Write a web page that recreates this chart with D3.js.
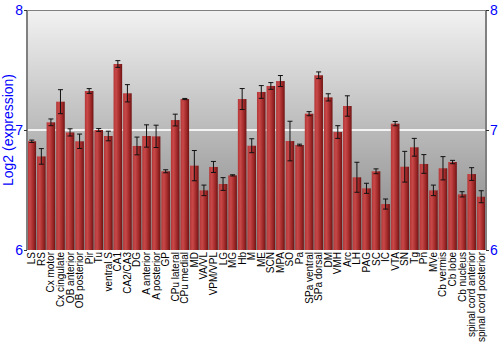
<!DOCTYPE html>
<html>
<head>
<meta charset="utf-8">
<script src="https://cdn.jsdelivr.net/npm/d3@7"></script>
<style>
  body { margin: 0; background: #fff; }
  svg { font-family: "Liberation Sans", Arial, sans-serif; }
</style>
</head>
<body>
<svg></svg>
<script>
const regions = ["LS", "RS", "Cx motor", "Cx cingulate", "OB anterior", "OB posterior", "Pir", "Tu",
  "ventral S", "CA1", "CA2/CA3", "DG", "A anterior", "A posterior", "GP", "CPu lateral", "CPu medial",
  "MD", "VA/VL", "VPM/VPL", "LG", "MG", "Hb", "M", "ME", "SCN", "MPA", "SO", "Pa", "SPa ventral",
  "SPa dorsal", "DM", "VMH", "Arc", "LH", "PAG", "SC", "IC", "VTA", "SN", "Tg", "Pn", "MVe",
  "Cb vermis", "Cb lobe", "Cb nucleus", "spinal cord anterior", "spinal cord posterior"]

const expression = [6.906, 6.78, 7.064, 7.236, 6.98, 6.906, 7.325, 7.0,
  6.95, 7.55, 7.306, 6.867, 6.95, 6.947, 6.656, 7.083, 7.258,
  6.703, 6.497, 6.692, 6.55, 6.622, 7.258, 6.869, 7.317, 7.367, 7.408, 6.908, 6.875, 7.136,
  7.456, 7.272, 6.983, 7.2, 6.606, 6.514, 6.656, 6.383, 7.053, 6.694, 6.856, 6.717, 6.497,
  6.681, 6.733, 6.464, 6.633, 6.444]

const errors = [0.01, 0.065, 0.028, 0.10, 0.03, 0.06, 0.02, 0.012,
  0.04, 0.028, 0.072, 0.074, 0.093, 0.093, 0.0125, 0.049, 0.005,
  0.126, 0.044, 0.046, 0.053, 0.005, 0.0875, 0.058, 0.053, 0.028, 0.046, 0.165, 0.007, 0.017,
  0.028, 0.03, 0.053, 0.085, 0.125, 0.042, 0.02, 0.042, 0.018, 0.128, 0.074, 0.078, 0.044,
  0.097, 0.014, 0.022, 0.053, 0.05]

const yTicks = [6, 7, 8]

const data = regions.map((r, i) => ({ region: r, value: expression[i], err: errors[i] }))

const svg = d3.select("svg")
  .attr("width", 500)
  .attr("height", 350)

const plotLeft = 27, plotRight = 486, plotTop = 10, plotBottom = 250

const x = d3.scaleBand()
  .domain(regions)
  .range([plotLeft, plotRight])
  .paddingInner(0.1)
  .paddingOuter(0.05)

const y = d3.scaleLinear()
  .domain([6, 8])
  .range([plotBottom, plotTop])

const defs = svg.append("defs")

const bg = defs.append("linearGradient")
  .attr("id", "bg")
  .attr("x1", 0).attr("y1", 0).attr("x2", 0).attr("y2", 1)
bg.append("stop").attr("offset", "0%").attr("stop-color", "#f2f2f2")
bg.append("stop").attr("offset", "100%").attr("stop-color", "#828282")

const barGrad = defs.append("linearGradient")
  .attr("id", "bar")
  .attr("x1", 0).attr("y1", 0).attr("x2", 1).attr("y2", 0)
barGrad.append("stop").attr("offset", "0%").attr("stop-color", "#b33636")
barGrad.append("stop").attr("offset", "30%").attr("stop-color", "#c84848")
barGrad.append("stop").attr("offset", "70%").attr("stop-color", "#a02828")
barGrad.append("stop").attr("offset", "100%").attr("stop-color", "#6e1414")

svg.append("rect")
  .attr("x", plotLeft)
  .attr("y", plotTop)
  .attr("width", plotRight - plotLeft)
  .attr("height", plotBottom - plotTop)
  .attr("fill", "url(#bg)")

// gridline at 7
svg.append("line")
  .attr("x1", plotLeft).attr("x2", plotRight)
  .attr("y1", y(7)).attr("y2", y(7))
  .attr("stroke", "#f4f4f4")
  .attr("stroke-width", 2)

svg.append("line")
  .attr("x1", plotLeft).attr("x2", plotRight)
  .attr("y1", plotTop + 0.5).attr("y2", plotTop + 0.5)
  .attr("stroke", "#808080")

svg.append("g")
  .selectAll("rect")
  .data(data)
  .join("rect")
  .attr("x", d => x(d.region))
  .attr("y", d => y(d.value))
  .attr("width", x.bandwidth())
  .attr("height", d => y(6) - y(d.value))
  .attr("fill", "url(#bar)")

const errG = svg.append("g")
  .attr("stroke", "#111")
  .attr("stroke-width", 1)

const cx = d => x(d.region) + x.bandwidth() / 2

errG.selectAll("line.v")
  .data(data)
  .join("line")
  .attr("class", "v")
  .attr("x1", cx)
  .attr("x2", cx)
  .attr("y1", d => y(d.value + d.err))
  .attr("y2", d => y(d.value - d.err))

errG.selectAll("line.top")
  .data(data)
  .join("line")
  .attr("class", "top")
  .attr("x1", d => cx(d) - 2.5)
  .attr("x2", d => cx(d) + 2.5)
  .attr("y1", d => y(d.value + d.err))
  .attr("y2", d => y(d.value + d.err))

errG.selectAll("line.bot")
  .data(data)
  .join("line")
  .attr("class", "bot")
  .attr("x1", d => cx(d) - 2.5)
  .attr("x2", d => cx(d) + 2.5)
  .attr("y1", d => y(d.value - d.err))
  .attr("y2", d => y(d.value - d.err))

const leftAxis = d3.axisLeft(y).tickValues(yTicks).tickFormat(d3.format("d")).tickSize(3).tickPadding(1)
const rightAxis = d3.axisRight(y).tickValues(yTicks).tickFormat(d3.format("d")).tickSize(3).tickPadding(1)

const styleAxis = g => {
  g.select(".domain").attr("stroke", "#808080").attr("stroke-width", 2)
    .attr("d", `M0,${plotTop}V${plotBottom}`)
  g.selectAll(".tick line").attr("stroke", "#333")
  g.selectAll(".tick text").attr("fill", "#0000ff").attr("font-size", 14)
}

svg.append("g")
  .attr("transform", `translate(${plotLeft}, 0)`)
  .call(leftAxis)
  .call(styleAxis)

svg.append("g")
  .attr("transform", `translate(${plotRight}, 0)`)
  .call(rightAxis)
  .call(styleAxis)

svg.append("g")
  .selectAll("text")
  .data(regions)
  .join("text")
  .attr("transform", d => `translate(${x(d) + x.bandwidth() / 2 + 3.5}, ${plotBottom + 2}) rotate(-90)`)
  .attr("text-anchor", "end")
  .attr("font-size", 10)
  .attr("fill", "#000")
  .text(d => d)

svg.append("text")
  .attr("transform", `translate(13, ${(plotTop + plotBottom) / 2}) rotate(-90)`)
  .attr("text-anchor", "middle")
  .attr("font-size", 14)
  .attr("fill", "#0000ff")
  .text("Log2 (expression)")
</script>
</body>
</html>
